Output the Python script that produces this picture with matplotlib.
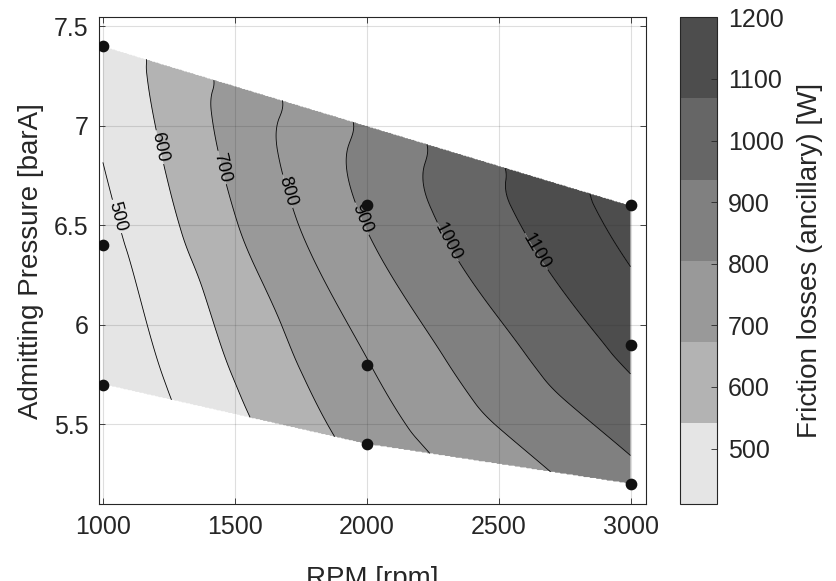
import numpy as np
import matplotlib
matplotlib.use("Agg")
import matplotlib.pyplot as plt
import matplotlib.tri as mtri
from matplotlib.colors import ListedColormap, Normalize
from matplotlib.cm import ScalarMappable

rpm = np.array([1000, 1000, 1000, 2000, 2000, 2000, 3000, 3000, 3000])
pressure = np.array([7.4, 6.4, 5.7, 6.6, 5.8, 5.4, 6.6, 5.9, 5.2])
friction = np.array([535, 465, 410, 915, 795, 735, 1245, 1130, 965])

levels = [500, 600, 700, 800, 900, 1000, 1100, 1200]
labelled = [500, 600, 700, 800, 900, 1000, 1100]
cbar_ticks = [500, 600, 700, 800, 900, 1000, 1100, 1200]
clim = (410, 1200)
grays = ["#e5e5e5", "#b3b3b3", "#999999", "#808080", "#666666", "#4d4d4d"]

# where the inline contour labels sit (rpm, bar)
label_spots = [(1072, 6.55), (1208, 6.89), (1451, 6.79), (1698, 6.67),
               (1997, 6.54), (2282, 6.40), (2589, 6.33)]

plt.rcParams["font.family"] = ["Liberation Sans", "DejaVu Sans"]
dark = "#262626"

fig = plt.figure(figsize=(8.36, 5.81), dpi=100)
ax = fig.add_axes([0.119, 0.1325, 0.6532, 0.8377])
cax = fig.add_axes([0.8134, 0.1325, 0.0439, 0.8377])

# cubic interpolation on the scattered points (like griddata 'cubic')
tri = mtri.Triangulation(rpm / 1000.0, pressure)
interp = mtri.CubicTriInterpolator(tri, friction, kind="geom")
gx = np.linspace(rpm.min(), rpm.max(), 500)
gy = np.linspace(pressure.min(), pressure.max(), 500)
GX, GY = np.meshgrid(gx, gy)
Z = interp(GX / 1000.0, GY)

cmap = ListedColormap(grays)
norm = Normalize(*clim)
edges = np.linspace(clim[0], clim[1], len(grays) + 1)

# fill colour of each band = colormap entry of its lower level (MATLAB style)
fill_levels = [Z.min() - 1] + levels + [Z.max() + 1]
fill_colors = []
for lo in fill_levels[:-1]:
    idx = int(np.clip(np.searchsorted(edges, lo, side="right") - 1, 0, len(grays) - 1))
    fill_colors.append(grays[idx])

ax.contourf(GX, GY, Z, levels=fill_levels, colors=fill_colors, antialiased=True)
cs = ax.contour(GX, GY, Z, levels=levels, colors="k", linewidths=0.6)
ax.clabel(cs, levels=labelled, inline=True, fmt="%d", fontsize=13,
          manual=label_spots, inline_spacing=4)

ax.scatter(rpm, pressure, s=55, color="#111111", zorder=5)

ax.set_xlim(987, 3057)
ax.set_ylim(5.1, 7.544)
ax.set_xticks([1000, 1500, 2000, 2500, 3000])
ax.set_yticks([5.5, 6, 6.5, 7, 7.5])
ax.set_yticklabels(["5.5", "6", "6.5", "7", "7.5"])
ax.set_axisbelow(False)
ax.grid(True, color=(0.15, 0.15, 0.15), alpha=0.15, linewidth=0.8)
ax.tick_params(direction="in", length=4, width=0.6, labelsize=18,
               colors=dark, top=True, right=True, pad=8)
for s in ax.spines.values():
    s.set_color(dark)
    s.set_linewidth(0.8)

ax.set_xlabel("RPM [rpm]", fontsize=20, color=dark)
ax.xaxis.set_label_coords(0.5, -0.128)
ax.set_ylabel("Admitting Pressure [barA]", fontsize=20, color=dark)
ax.yaxis.set_label_coords(-0.1016, 0.5)

cb = fig.colorbar(ScalarMappable(norm=norm, cmap=cmap), cax=cax, ticks=cbar_ticks)
cb.outline.set_edgecolor(dark)
cb.outline.set_linewidth(0.8)
cax.tick_params(direction="in", length=4, width=0.6, labelsize=18,
                colors=dark, pad=8)
cb.set_label("Friction losses (ancillary) [W]", fontsize=20, color=dark)
cax.yaxis.set_label_coords(3.2, 0.5)

fig.savefig("out.png", dpi=100)
